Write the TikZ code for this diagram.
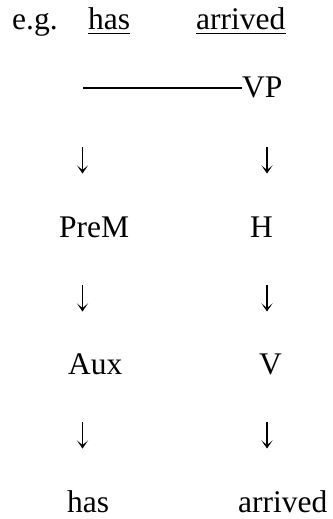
\documentclass[tikz,border=0pt]{standalone}
\usepackage{fontspec}
\setmainfont{Liberation Serif}
\usetikzlibrary{arrows.meta}
\begin{document}
\begin{tikzpicture}[x=1pt,y=-1pt,
  word/.style={inner sep=0pt,anchor=base west,font=\fontsize{31.5}{36}\selectfont},
  ul/.style={line width=1.4pt},
  bar/.style={line width=1.8pt},
  down/.style={line width=1.3pt,-{Stealth[length=8pt,width=11pt,inset=4.5pt]}}]
\useasboundingbox (0,0) rectangle (332,519);
% example words
\node[word] (eg)   at (12,30) {e.g.};
\node[word] (has1) at (88,30) {has};
\node[word] (arr1) at (196,30) {arrived};
\draw[ul] ([yshift=-3.4pt]has1.base west) -- ([yshift=-3.4pt]has1.base east);
\draw[ul] ([yshift=-3.4pt]arr1.base west) -- ([yshift=-3.4pt]arr1.base east);
% phrase level
\node[word] (vp) at (242,97) {VP};
\coordinate (vpl) at (83,88.3);
\draw[bar] (vpl) -- (vpl -| vp.west);
% functions, classes, words
\node[word] (prem) at (59,237) {PreM};
\node[word] (h)    at (250,237) {H};
\node[word] (aux)  at (68,374) {Aux};
\node[word] (v)    at (259,374) {V};
\node[word] (has2) at (67,512) {has};
\node[word] (arr2) at (238,512) {arrived};
% downward arrows
\coordinate (a1s) at (82.5,147); \coordinate (a1e) at (82.5,173.5);
\coordinate (b1s) at (267,147);  \coordinate (b1e) at (267,173.5);
\coordinate (a2s) at (82.5,285); \coordinate (a2e) at (82.5,311.5);
\coordinate (b2s) at (267,285);  \coordinate (b2e) at (267,311.5);
\coordinate (a3s) at (82.5,422); \coordinate (a3e) at (82.5,448.5);
\coordinate (b3s) at (267,422);  \coordinate (b3e) at (267,448.5);
\foreach \s/\e in {a1s/a1e,b1s/b1e,a2s/a2e,b2s/b2e,a3s/a3e,b3s/b3e}
  \draw[down] (\s) -- (\e);
\end{tikzpicture}
\end{document}
